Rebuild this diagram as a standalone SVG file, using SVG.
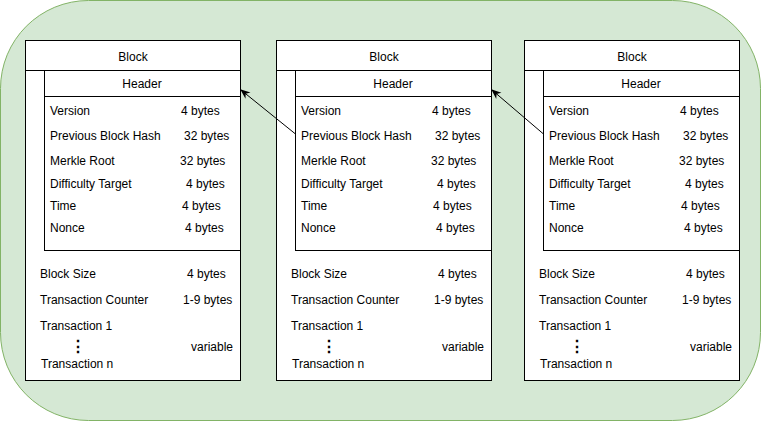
<svg xmlns="http://www.w3.org/2000/svg" width="761" height="421" viewBox="0 0 761 421">
<defs>
<style>
.bg{fill:#d5e8d4;stroke:#82b366;stroke-width:1}
.box{fill:#ffffff;stroke:#000000;stroke-width:1}
.ln{stroke:#000000;stroke-width:1;fill:none}
text{font-family:"Liberation Sans",Arial,Helvetica,sans-serif;font-size:12px;fill:#000000}
.c{text-anchor:middle}
.conn{stroke:#000000;stroke-width:1;fill:none;marker-end:url(#arr)}
</style>
<marker id="arr" viewBox="0 0 10 10" refX="9" refY="5" markerWidth="10" markerHeight="10" markerUnits="userSpaceOnUse" orient="auto">
<path d="M0,1 L10,5 L0,9 L3,5 Z" fill="#000000"/>
</marker>
<g id="blk">
<rect class="box" x="0.5" y="0.5" width="215" height="340"/>
<line class="ln" x1="0.5" y1="30.5" x2="215.5" y2="30.5"/>
<rect class="box" x="19.5" y="30.5" width="196" height="180"/>
<line class="ln" x1="19.5" y1="56.5" x2="215.5" y2="56.5"/>
<text class="c" x="108" y="21">Block</text>
<text class="c" x="117" y="48">Header</text>
<text x="25" y="75">Version</text><text x="156" y="75">4 bytes</text>
<text x="25" y="100">Previous Block Hash</text><text x="159" y="100">32 bytes</text>
<text x="25" y="125">Merkle Root</text><text x="155" y="125">32 bytes</text>
<text x="25" y="148">Difficulty Target</text><text x="161" y="148">4 bytes</text>
<text x="25" y="170">Time</text><text x="157" y="170">4 bytes</text>
<text x="25" y="192">Nonce</text><text x="160" y="192">4 bytes</text>
<text x="15" y="238">Block Size</text><text x="162" y="238">4 bytes</text>
<text x="15" y="264">Transaction Counter</text><text x="158" y="264">1-9 bytes</text>
<text x="15" y="290">Transaction 1</text>
<text class="c" x="53" y="312" style="font-size:16px;font-weight:bold">⋮</text>
<text x="16" y="328">Transaction n</text>
<text x="166" y="311">variable</text>
</g>
</defs>
<rect class="bg" x="0.5" y="0.5" width="760" height="420" rx="88" ry="88"/>
<g id="block1"><use href="#blk" x="25" y="40"/></g>
<g id="block2"><use href="#blk" x="276" y="40"/></g>
<g id="block3"><use href="#blk" x="524" y="40"/></g>
<g id="connectors">
<line class="conn" x1="295.5" y1="134" x2="241" y2="90"/>
<line class="conn" x1="543.5" y1="134" x2="492" y2="90"/>
</g>
</svg>
